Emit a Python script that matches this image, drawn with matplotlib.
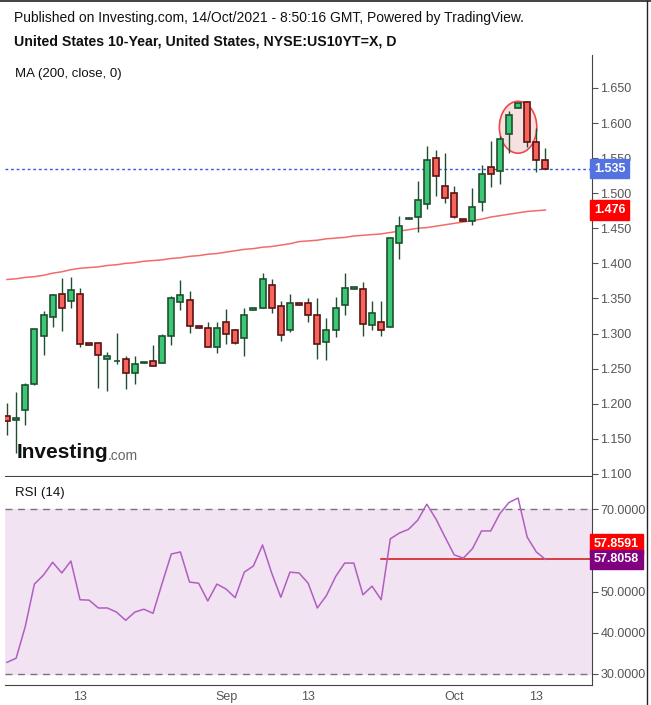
import matplotlib
matplotlib.use('Agg')
import matplotlib.pyplot as plt
import matplotlib.patches as patches
import matplotlib.transforms as mtransforms
from matplotlib.lines import Line2D

plt.rcParams['font.family'] = ['Liberation Sans', 'DejaVu Sans']

# daily candles, 60 sessions
opens = [1.182, 1.177, 1.191, 1.228, 1.297, 1.323, 1.357, 1.346, 1.357, 1.286,
         1.286, 1.264, 1.261, 1.264, 1.244, 1.258, 1.261, 1.258, 1.296, 1.345,
         1.348, 1.310, 1.308, 1.281, 1.317, 1.305, 1.294, 1.334, 1.336, 1.369,
         1.339, 1.305, 1.343, 1.343, 1.326, 1.288, 1.305, 1.340, 1.364, 1.363,
         1.312, 1.316, 1.309, 1.429, 1.463, 1.466, 1.484, 1.550, 1.510, 1.501,
         1.463, 1.460, 1.487, 1.537, 1.531, 1.585, 1.622, 1.630, 1.573, 1.548]
highs = [1.201, 1.216, 1.229, 1.307, 1.332, 1.357, 1.379, 1.380, 1.365, 1.286,
         1.287, 1.274, 1.301, 1.268, 1.268, 1.260, 1.283, 1.299, 1.353, 1.376,
         1.361, 1.310, 1.316, 1.316, 1.335, 1.307, 1.336, 1.336, 1.386, 1.377,
         1.346, 1.356, 1.343, 1.350, 1.350, 1.322, 1.352, 1.386, 1.366, 1.373,
         1.346, 1.346, 1.437, 1.467, 1.465, 1.517, 1.567, 1.561, 1.557, 1.510,
         1.463, 1.508, 1.540, 1.574, 1.581, 1.617, 1.629, 1.631, 1.593, 1.564]
lows = [1.155, 1.130, 1.169, 1.227, 1.269, 1.309, 1.303, 1.336, 1.281, 1.284,
        1.223, 1.218, 1.256, 1.221, 1.228, 1.258, 1.254, 1.258, 1.283, 1.333,
        1.301, 1.308, 1.281, 1.272, 1.285, 1.285, 1.268, 1.334, 1.336, 1.329,
        1.289, 1.302, 1.341, 1.317, 1.264, 1.262, 1.295, 1.326, 1.364, 1.297,
        1.305, 1.297, 1.309, 1.406, 1.463, 1.444, 1.477, 1.496, 1.486, 1.464,
        1.460, 1.454, 1.474, 1.509, 1.513, 1.558, 1.621, 1.566, 1.530, 1.535]
closes = [1.175, 1.180, 1.226, 1.306, 1.326, 1.355, 1.336, 1.362, 1.285, 1.284,
          1.269, 1.268, 1.261, 1.244, 1.256, 1.260, 1.254, 1.297, 1.350, 1.355,
          1.311, 1.308, 1.281, 1.308, 1.299, 1.286, 1.326, 1.336, 1.377, 1.336,
          1.298, 1.343, 1.341, 1.326, 1.285, 1.305, 1.336, 1.365, 1.366, 1.313,
          1.329, 1.305, 1.436, 1.453, 1.465, 1.491, 1.547, 1.524, 1.493, 1.466,
          1.460, 1.481, 1.528, 1.528, 1.577, 1.612, 1.628, 1.573, 1.548, 1.535]

ma200 = [1.377, 1.378, 1.380, 1.381, 1.383, 1.386, 1.388, 1.391, 1.393, 1.394,
         1.395, 1.397, 1.398, 1.400, 1.401, 1.403, 1.404, 1.405, 1.407, 1.408,
         1.410, 1.411, 1.413, 1.414, 1.416, 1.418, 1.420, 1.421, 1.423, 1.424,
         1.426, 1.428, 1.431, 1.432, 1.433, 1.435, 1.436, 1.437, 1.439, 1.440,
         1.441, 1.442, 1.444, 1.446, 1.448, 1.450, 1.451, 1.453, 1.455, 1.457,
         1.459, 1.461, 1.463, 1.466, 1.468, 1.470, 1.472, 1.474, 1.475, 1.476]

rsi14 = [32.8, 33.8, 41.5, 51.8, 54.0, 57.1, 54.5, 57.4, 48.0, 47.9,
         46.0, 46.0, 45.0, 43.0, 45.0, 45.7, 44.7, 52.0, 59.1, 59.6,
         52.3, 52.0, 47.7, 51.8, 50.6, 48.5, 54.7, 56.2, 61.3, 54.5,
         48.6, 54.7, 54.5, 52.0, 46.0, 49.0, 53.6, 56.9, 56.9, 49.2,
         51.3, 48.0, 62.8, 64.2, 65.1, 67.3, 71.2, 67.6, 63.2, 58.9,
         58.1, 60.4, 64.7, 64.7, 68.9, 71.6, 72.7, 63.2, 59.6, 57.8]

tick_pos = [8, 24, 33, 49, 58]
tick_labels = ['13', 'Sep', '13', 'Oct', '13']
price_ticks = [1.100, 1.150, 1.200, 1.250, 1.300, 1.350, 1.400,
               1.450, 1.500, 1.550, 1.600, 1.650]
rsi_ticks = [30, 40, 50, 70]
last_price = 1.535
last_ma = 1.476
rsi_line_level = 57.8591
last_rsi = 57.8058

W, H = 651, 705
GREY = '#555555'


def fx(px):
    return px / W


def fy(py):
    return 1 - py / H


fig = plt.figure(figsize=(W / 100, H / 100), dpi=100)

# price panel
ax = fig.add_axes([fx(5), fy(476), fx(592) - fx(5), fy(55) - fy(476)])
# rsi panel
ax2 = fig.add_axes([fx(5), fy(685), fx(592) - fx(5), fy(477) - fy(685)])

x = list(range(len(closes)))
ax.set_xlim(-0.22, 64.1)
ax2.set_xlim(-0.22, 64.1)
ax.set_ylim(1.0969, 1.697)
ax2.set_ylim(27.3, 77.8)

# highlight ellipse round the top
ell = patches.Ellipse((56.0, 1.594), width=4.1, height=0.074,
                      facecolor='#f6e0e0', edgecolor='#f04848', lw=1.2, zorder=1)
ax.add_patch(ell)

ax.plot(x, ma200, color='#f26b6b', lw=1.1, zorder=2)
ax.axhline(last_price, color='#2f5be0', lw=1, ls=(0, (2, 2)), zorder=2)

up_c = [c >= o for o, c in zip(opens, closes)]
ax.vlines(x, lows, highs, color='#1f4f2f', lw=1, zorder=3)
bottoms = [min(o, c) for o, c in zip(opens, closes)]
heights = [max(abs(c - o), 0.0005) for o, c in zip(opens, closes)]
ax.bar(x, heights, bottom=bottoms, width=0.66,
       color=['#3cc776' if u else '#f7645c' for u in up_c],
       edgecolor=['#1f4f2f' if u else '#5a1212' for u in up_c],
       linewidth=1.2, zorder=4)

for a in (ax, ax2):
    a.spines['left'].set_visible(False)
    a.spines['top'].set_visible(False)
    a.spines['right'].set_color('#444444')
    a.spines['bottom'].set_color('#444444')
    a.yaxis.tick_right()
    a.tick_params(axis='y', colors=GREY, labelsize=9, length=4, width=0.8,
                  labelcolor=GREY, pad=2)

ax.set_yticks(price_ticks)
ax.set_yticklabels(['%.3f' % t for t in price_ticks])
ax.set_xticks([])

ax2.set_yticks(rsi_ticks)
ax2.set_yticklabels(['%.4f' % t for t in rsi_ticks])
ax2.set_xticks(tick_pos)
ax2.set_xticklabels(tick_labels)
ax2.tick_params(axis='x', length=0, labelsize=9, labelcolor=GREY, pad=4)

# rsi band
ax2.axhspan(30, 70, color='#f1e3f1', zorder=0)
ax2.axhline(70, color='#777777', lw=1, ls=(0, (5, 4)), zorder=1)
ax2.axhline(30, color='#777777', lw=1, ls=(0, (5, 4)), zorder=1)
ax2.plot(x, rsi14, color='#b15ec2', lw=1.1, zorder=3)
ax2.plot([41, 64.1], [rsi_line_level, rsi_line_level], color='#d01010', lw=1.1, zorder=2)

# value tags on the right scale
def tag(a, y, txt, bg, dy=0):
    tr = mtransforms.blended_transform_factory(a.transAxes, a.transData)
    tr = tr + mtransforms.ScaledTranslation(0, dy / 100, fig.dpi_scale_trans)
    a.text(1.003, y, txt, transform=tr, ha='left', va='center', fontsize=9,
           color='white', fontweight='bold', clip_on=False, zorder=10,
           bbox=dict(boxstyle='square,pad=0.3', facecolor=bg, edgecolor=bg))

tag(ax, last_price, '%.3f' % last_price, '#5573e0')
tag(ax, last_ma, '%.3f' % last_ma, '#ff0000')
tag(ax2, last_rsi, '%.4f' % rsi_line_level, '#ff0000', dy=15.5)
tag(ax2, last_rsi, '%.4f' % last_rsi, '#800080', dy=0)

# header and labels
fig.text(fx(14), fy(18), 'Published on Investing.com, 14/Oct/2021 - 8:50:16 GMT, Powered by TradingView.',
         fontsize=10, va='center', color='#111111')
fig.text(fx(14), fy(42), 'United States 10-Year, United States, NYSE:US10YT=X, D',
         fontsize=10.2, va='center', fontweight='bold', color='#111111')
fig.text(fx(15), fy(74), 'MA (200, close, 0)', fontsize=9.5, va='center', color='#111111')
fig.text(fx(15), fy(493), 'RSI (14)', fontsize=9.5, va='center', color='#111111')
fig.text(fx(17), fy(453), 'Investing', fontsize=15, fontweight='bold', va='center',
         color='#111111')
fig.text(fx(108), fy(456), '.com', fontsize=10, va='center', color='#666666')

# outer frame
fig.add_artist(Line2D([0, 1], [fy(1), fy(1)], color='#222222', lw=1.2))
fig.add_artist(Line2D([fx(647), fx(647)], [0, fy(1)], color='#222222', lw=1))

fig.savefig('out.png', dpi=100)
